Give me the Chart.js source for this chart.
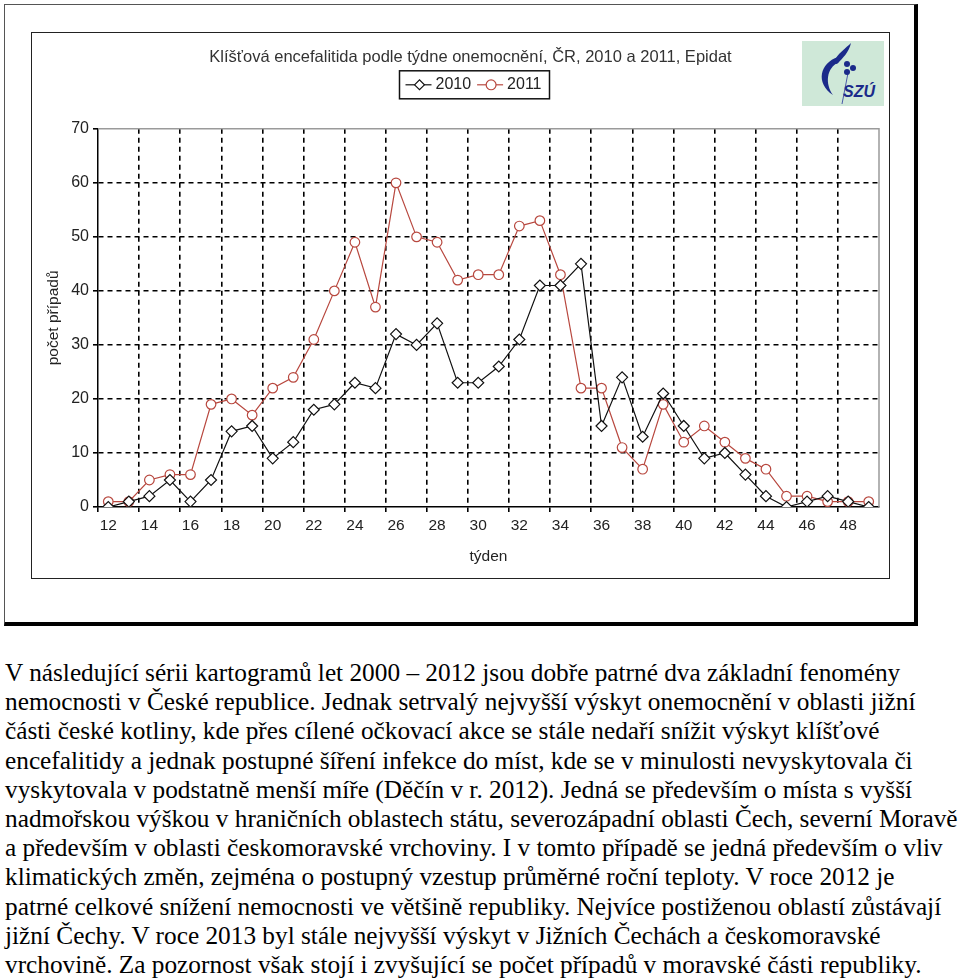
<!DOCTYPE html>
<html>
<head>
<meta charset="utf-8">
<script src="https://cdn.jsdelivr.net/npm/chart.js@4.4.0/dist/chart.umd.min.js"></script>
<style>
    body { margin: 0; background: #fff; width: 960px; height: 980px; position: relative; overflow: hidden; }
    #frame { position: absolute; left: 4px; top: 4px; width: 909px; height: 617px;
             border-top: 1px solid #555; border-left: 1px solid #555;
             border-right: 4px solid #000; border-bottom: 4px solid #000; }
    #box { position: absolute; left: 31px; top: 32px; width: 859px; height: 547px;
           border: 1px solid #222; box-sizing: border-box; }
    #chart { position: absolute; left: 0; top: 0; }
    #logo { position: absolute; left: 802px; top: 41px; width: 82px; height: 65px; }
    #text { position: absolute; left: 5px; top: 658px; font-family: 'Liberation Serif', 'Times New Roman', serif;
            font-size: 25.3px; line-height: 29.2px; color: #000; }
    #text div { white-space: nowrap; }
</style>
</head>
<body>
<div id="frame"></div>
<div id="box"><canvas id="chart" width="857" height="545"></canvas></div>
<svg id="logo" viewBox="0 0 82 65">
    <rect width="82" height="65" fill="#cfe8d8"/>
    <path d="M36 16 C 18 22, 13 42, 31 54 C 23 43, 24 27, 37 21 Z" fill="#1b2a8a"/>
    <path d="M31 22 C 36 12, 44 7, 49 2 C 47 11, 41 17, 35 23 Z" fill="#1b2a8a"/>
    <line x1="46" y1="32" x2="40" y2="63" stroke="#4a5aa8" stroke-width="1"/>
    <circle cx="45" cy="23" r="3" fill="#1b2a8a"/>
    <circle cx="51" cy="27" r="3" fill="#1b2a8a"/>
    <circle cx="45" cy="31" r="3" fill="#1b2a8a"/>
    <text x="41" y="56" font-family="Liberation Sans, Arial" font-weight="bold" font-style="italic" font-size="16" fill="#1b2a8a">SZÚ</text>
</svg>
<div id="text">
    <div>V následující sérii kartogramů let 2000 – 2012 jsou dobře patrné dva základní fenomény</div>
    <div>nemocnosti v České republice. Jednak setrvalý nejvyšší výskyt onemocnění v oblasti jižní</div>
    <div>části české kotliny, kde přes cílené očkovací akce se stále nedaří snížit výskyt klíšťové</div>
    <div>encefalitidy a jednak postupné šíření infekce do míst, kde se v minulosti nevyskytovala či</div>
    <div>vyskytovala v podstatně menší míře (Děčín v r. 2012). Jedná se především o místa s vyšší</div>
    <div>nadmořskou výškou v hraničních oblastech státu, severozápadní oblasti Čech, severní Moravě</div>
    <div>a především v oblasti českomoravské vrchoviny. I v tomto případě se jedná především o vliv</div>
    <div>klimatických změn, zejména o postupný vzestup průměrné roční teploty. V roce 2012 je</div>
    <div>patrné celkové snížení nemocnosti ve většině republiky. Nejvíce postiženou oblastí zůstávají</div>
    <div>jižní Čechy. V roce 2013 byl stále nejvyšší výskyt v Jižních Čechách a českomoravské</div>
    <div>vrchovině. Za pozornost však stojí i zvyšující se počet případů v moravské části republiky.</div>
</div>
<script>
// Data (weeks 12-49)
const weeks = ['12', '13', '14', '15', '16', '17', '18', '19', '20', '21', '22', '23', '24',
               '25', '26', '27', '28', '29', '30', '31', '32', '33', '34', '35', '36', '37',
               '38', '39', '40', '41', '42', '43', '44', '45', '46', '47', '48', '49'];
const cases2010 = [0, 1, 2, 5, 1, 5, 14, 15, 9, 12, 18, 19, 23, 22, 32, 30, 34, 23, 23, 26,
                   31, 41, 41, 45, 15, 24, 13, 21, 15, 9, 10, 6, 2, 0, 1, 2, 1, 0];
const cases2011 = [1, 1, 5, 6, 6, 19, 20, 17, 22, 24, 31, 40, 49, 37, 60, 50, 49, 42, 43, 43,
                   52, 53, 43, 22, 22, 11, 7, 19, 12, 15, 12, 9, 7, 2, 2, 1, 1, 1];
const yTicks = [0, 10, 20, 30, 40, 50, 60, 70];

const TRANSPARENT = 'rgba(0,0,0,0)';
const RED = '#b8483f';
const DARK = '#111';

Chart.defaults.font.family = "'Liberation Sans', Arial, sans-serif";
Chart.defaults.color = '#333';

// move title + legend a bit right, legend up under the title
const headerShift = {
    id: 'headerShift',
    afterLayout(chart) {
        const dx = 15;
        chart.titleBlock.left += dx;
        chart.titleBlock.right += dx;
        chart.legend.left += dx + 6;
        chart.legend.right += dx + 6;
        chart.legend.top -= 26;
        chart.legend.bottom -= 26;
    }
};

// line through legend markers + frame around the legend
const legendDeco = {
    id: 'legendDeco',
    beforeDraw(chart) {
        const ctx = chart.ctx;
        const boxes = chart.legend.legendHitBoxes;
        ctx.save();
        ctx.lineWidth = 1.2;
        boxes.forEach((hb, i) => {
            const cy = hb.top + hb.height / 2;
            ctx.strokeStyle = chart.data.datasets[i].borderColor;
            ctx.beginPath();
            ctx.moveTo(hb.left - 6, cy);
            ctx.lineTo(hb.left + 20, cy);
            ctx.stroke();
        });
        ctx.restore();
    },
    afterDraw(chart) {
        const ctx = chart.ctx;
        const boxes = chart.legend.legendHitBoxes;
        const first = boxes[0];
        const last = boxes[boxes.length - 1];
        ctx.save();
        ctx.strokeStyle = '#111';
        ctx.lineWidth = 1.5;
        ctx.strokeRect(first.left - 12, first.top - 6, last.left + last.width - first.left + 20, first.height + 12);
        ctx.restore();
    }
};

// grey border on top and right of the plot area
const plotFrame = {
    id: 'plotFrame',
    beforeDatasetsDraw(chart) {
        const { ctx, chartArea: a } = chart;
        ctx.save();
        ctx.strokeStyle = '#9a9a9a';
        ctx.lineWidth = 1.5;
        ctx.beginPath();
        ctx.moveTo(a.left, a.top);
        ctx.lineTo(a.right, a.top);
        ctx.lineTo(a.right, a.bottom);
        ctx.stroke();
        ctx.restore();
    }
};

const ctx = document.getElementById('chart').getContext('2d');
const chart = new Chart(ctx, {
    type: 'line',
    data: {
        labels: weeks,
        datasets: [{
            label: '2010',
            data: cases2010,
            borderColor: DARK,
            backgroundColor: '#fff',
            borderWidth: 1.2,
            pointStyle: 'rectRot',
            pointRadius: 5.5,
            pointBorderWidth: 1.2,
            pointBackgroundColor: '#fff',
            pointBorderColor: DARK,
            tension: 0
        }, {
            label: '2011',
            data: cases2011,
            borderColor: RED,
            backgroundColor: '#fff',
            borderWidth: 1.2,
            pointStyle: 'circle',
            pointRadius: 4.8,
            pointBorderWidth: 1.2,
            pointBackgroundColor: '#fff',
            pointBorderColor: RED,
            tension: 0
        }]
    },
    options: {
        responsive: false,
        animation: false,
        layout: { padding: { top: 0, right: 10, left: 0, bottom: 0 } },
        scales: {
            x: {
                type: 'category',
                offset: true,
                afterFit: (scale) => { scale.height = 71; },
                grid: {
                    offset: true,
                    color: (c) => (c.index > 0 && c.index % 2 === 0) ? '#000' : TRANSPARENT,
                    tickColor: (c) => (c.index !== undefined && c.index % 2 === 0) ? '#000' : TRANSPARENT,
                    lineWidth: 1.6,
                    tickLength: 5,
                    tickBorderDash: []
                },
                border: { display: true, color: '#000', width: 1.5, dash: [5, 4] },
                ticks: {
                    autoSkip: false,
                    maxRotation: 0,
                    padding: 4,
                    color: '#222',
                    font: { size: 15.5 },
                    callback: function (value, index) {
                        return index % 2 === 0 ? this.getLabelForValue(value) : '';
                    }
                },
                title: { display: true, text: 'týden', color: '#222', font: { size: 15.5 }, padding: { top: 4, bottom: 12 } }
            },
            y: {
                min: yTicks[0],
                max: yTicks[yTicks.length - 1],
                afterFit: (scale) => { scale.width = 66; },
                grid: {
                    color: (c) => (c.tick && c.tick.value > 0 && c.tick.value < 70) ? '#000' : TRANSPARENT,
                    tickColor: '#000',
                    lineWidth: 1.6,
                    tickLength: 5,
                    tickBorderDash: []
                },
                border: { display: true, color: '#000', width: 1.5, dash: [5, 4] },
                ticks: { stepSize: 10, padding: 4, color: '#222', font: { size: 16 } },
                title: { display: true, text: 'počet případů', color: '#222', font: { size: 15.5 }, padding: { top: 12, bottom: 12 } }
            }
        },
        plugins: {
            title: {
                display: true,
                text: 'Klíšťová encefalitida podle týdne onemocnění, ČR, 2010 a 2011, Epidat',
                color: '#333',
                font: { size: 16.5, weight: 'normal' },
                padding: { top: 15, bottom: 23 }
            },
            legend: {
                display: true,
                labels: {
                    usePointStyle: true,
                    boxWidth: 16,
                    boxHeight: 7,
                    padding: 12,
                    color: '#222',
                    font: { size: 16 }
                }
            },
            tooltip: { enabled: false }
        }
    },
    plugins: [headerShift, legendDeco, plotFrame]
});
</script>
</body>
</html>
